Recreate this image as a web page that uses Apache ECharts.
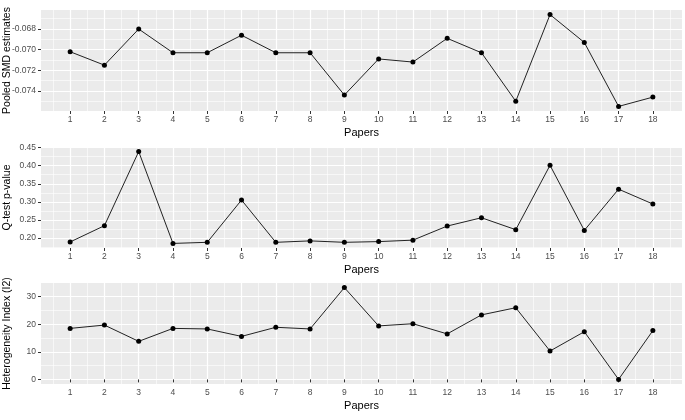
<!DOCTYPE html>
<html>
<head>
<meta charset="utf-8">
<script src="https://cdn.jsdelivr.net/npm/echarts@6/dist/echarts.min.js"></script>
<style>
  html, body { margin: 0; padding: 0; background: #fff; }
  #main { width: 685px; height: 420px; }
</style>
</head>
<body>
<div id="main"></div>
<script>
// x: papers 1..18
const papers = [1, 2, 3, 4, 5, 6, 7, 8, 9, 10, 11, 12, 13, 14, 15, 16, 17, 18];

// panel values
const smd = [-0.0702, -0.0715, -0.0680, -0.0703, -0.0703, -0.0686, -0.0703, -0.0703, -0.0744,
  -0.0709, -0.0712, -0.0689, -0.0703, -0.0750, -0.0666, -0.0693, -0.0755, -0.0746];
const pval = [0.189, 0.234, 0.439, 0.185, 0.188, 0.305, 0.188, 0.192, 0.188,
  0.190, 0.194, 0.233, 0.256, 0.223, 0.401, 0.221, 0.335, 0.294];
const i2 = [18.5, 19.7, 13.8, 18.5, 18.3, 15.6, 18.9, 18.3, 33.3,
  19.4, 20.2, 16.5, 23.4, 26.0, 10.3, 17.3, 0.0, 17.7];

// axis breaks
const smdTicks = [-0.074, -0.072, -0.070, -0.068];
const smdMinor = [-0.075, -0.073, -0.071, -0.069, -0.067];
const pTicks = [0.20, 0.25, 0.30, 0.35, 0.40, 0.45];
const pMinor = [0.175, 0.225, 0.275, 0.325, 0.375, 0.425];
const i2Ticks = [0, 10, 20, 30];
const i2Minor = [5, 15, 25];
const xMinor = papers.map(p => p - 0.5).concat([18.5]);

const titles = ['Pooled SMD estimates', 'Q-test p-value', 'Heterogeneity Index (I2)'];

// ggplot style 5% expansion
function expand(arr) {
  const lo = Math.min(...arr), hi = Math.max(...arr);
  const pad = (hi - lo) * 0.05;
  return [lo - pad, hi + pad];
}

const panels = [
  { data: smd, ticks: smdTicks, minor: smdMinor, fmt: v => v.toFixed(3), top: 10 },
  { data: pval, ticks: pTicks, minor: pMinor, fmt: v => v.toFixed(2), top: 147 },
  { data: i2, ticks: i2Ticks, minor: i2Minor, fmt: v => String(Math.round(v)), top: 283 }
];

const labelFont = 'Liberation Sans, Arial, sans-serif';
const titleFont = 'Liberation Sans, Arial, sans-serif';

let grid = [], xAxis = [], yAxis = [], series = [];

panels.forEach((p, i) => {
  const [ymin, ymax] = expand(p.data);
  grid.push({
    left: 41, right: 3, top: p.top, height: 101,
    backgroundColor: '#EBEBEB', show: true, borderWidth: 0,
    containLabel: false, outerBoundsMode: 'none'
  });

  // main x axis
  xAxis.push({
    type: 'value', gridIndex: i, min: 0.15, max: 18.85,
    name: 'Papers', nameLocation: 'middle', nameGap: 16, nameMoveOverlap: false,
    nameTextStyle: { fontFamily: titleFont, fontSize: 11, color: '#000' },
    axisLine: { show: false },
    axisTick: { show: true, length: 3, lineStyle: { color: '#333', width: 1 }, customValues: papers },
    axisLabel: { customValues: papers, margin: 4, fontFamily: labelFont, fontSize: 8.5, color: '#4D4D4D' },
    splitLine: { show: true, lineStyle: { color: '#fff', width: 1.2 } }
  });
  // main y axis
  yAxis.push({
    type: 'value', gridIndex: i, min: ymin, max: ymax,
    name: titles[i], nameLocation: 'middle', nameGap: 28, nameMoveOverlap: false,
    nameTextStyle: { fontFamily: titleFont, fontSize: 10.5, color: '#000' },
    axisLine: { show: false },
    axisTick: { show: true, length: 3, lineStyle: { color: '#333', width: 1 }, customValues: p.ticks },
    axisLabel: { customValues: p.ticks, margin: 5, fontFamily: labelFont, fontSize: 8.5, color: '#4D4D4D', formatter: p.fmt },
    splitLine: { show: true, lineStyle: { color: '#fff', width: 1.2 } }
  });
  series.push({
    type: 'line', xAxisIndex: i, yAxisIndex: i,
    data: papers.map((x, k) => [x, p.data[k]]),
    symbol: 'circle', symbolSize: 5,
    itemStyle: { color: '#000' },
    lineStyle: { color: '#222', width: 1 },
    z: 5, animation: false
  });
});

// minor grid lines on overlay axes
panels.forEach((p, i) => {
  const [ymin, ymax] = expand(p.data);
  xAxis.push({
    type: 'value', gridIndex: i, min: 0.15, max: 18.85,
    axisLine: { show: false }, axisLabel: { show: false },
    axisTick: { show: false, customValues: xMinor },
    splitLine: { show: true, lineStyle: { color: '#fff', width: 0.6 } }
  });
  yAxis.push({
    type: 'value', gridIndex: i, min: ymin, max: ymax,
    axisLine: { show: false }, axisLabel: { show: false },
    axisTick: { show: false, customValues: p.minor },
    splitLine: { show: true, lineStyle: { color: '#fff', width: 0.6 } }
  });
});

const chart = echarts.init(document.getElementById('main'), null, { renderer: 'canvas' });
chart.setOption({
  animation: false,
  grid: grid,
  xAxis: xAxis,
  yAxis: yAxis,
  series: series
});
</script>
</body>
</html>
